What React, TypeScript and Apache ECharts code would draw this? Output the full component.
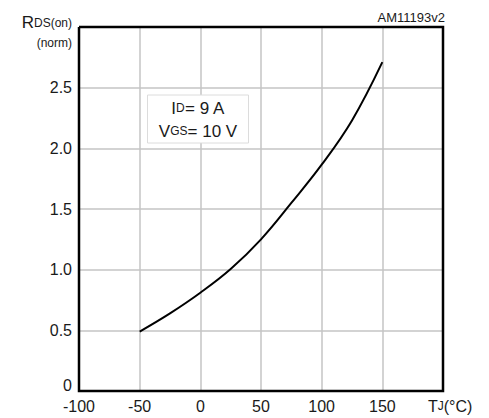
import React, { useEffect, useRef } from "react";
import * as echarts from "echarts";

const tempC = [-50, -25, 0, 25, 50, 75, 100, 125, 150];
const rdsNorm = [0.49, 0.64, 0.81, 1.005, 1.25, 1.55, 1.865, 2.23, 2.71];
const xTicks = { min: -100, max: 200, step: 50 };
const yTicks = { min: 0, max: 3, step: 0.5 };

const FONT = "Liberation Sans, Arial, sans-serif";
const INK = "#1a1a1a";
const G = { left: 79, top: 27, width: 364, height: 364 };

export default function App() {
  const ref = useRef<HTMLDivElement>(null);
  useEffect(() => {
    if (!ref.current) return;
    const chart = echarts.init(ref.current, null, { renderer: "svg" });
    const data = tempC.map((t, i) => [t, rdsNorm[i]]);
    chart.setOption({
      animation: false,
      backgroundColor: "#fff",
      grid: {
        left: G.left,
        top: G.top,
        width: G.width,
        height: G.height,
        containLabel: false,
      },
      xAxis: {
        type: "value",
        min: xTicks.min,
        max: xTicks.max,
        interval: xTicks.step,
        axisLine: { show: false },
        axisTick: { show: false },
        splitLine: { show: true, lineStyle: { color: "#c4c4c4", width: 1.5 } },
        axisLabel: {
          color: INK,
          fontFamily: FONT,
          fontSize: 16,
          margin: 7,
          formatter: (v: number) => (v === xTicks.max ? "" : String(v)),
        },
      },
      yAxis: {
        type: "value",
        min: yTicks.min,
        max: yTicks.max,
        interval: yTicks.step,
        axisLine: { show: false },
        axisTick: { show: false },
        splitLine: { show: true, lineStyle: { color: "#c4c4c4", width: 1.5 } },
        axisLabel: {
          color: INK,
          fontFamily: FONT,
          fontSize: 16,
          margin: 7,
          formatter: (v: number) =>
            v === yTicks.max ? "" : v === 0 ? "{z|0}" : v.toFixed(1),
          rich: {
            z: { fontFamily: FONT, fontSize: 16, color: INK, padding: [0, 0, 12, 0] },
          },
        },
      },
      series: [
        {
          type: "line",
          data,
          smooth: 0.4,
          showSymbol: false,
          lineStyle: { color: "#000", width: 2 },
        },
      ],
      graphic: [
        {
          type: "polyline",
          shape: {
            points: [
              [G.left, G.top],
              [G.left + G.width, G.top],
              [G.left + G.width, G.top + G.height],
              [G.left, G.top + G.height],
              [G.left, G.top],
            ],
          },
          style: { fill: null, stroke: "#000", lineWidth: 2.5 },
          z: 100,
          silent: true,
        },
        {
          type: "text",
          x: 445,
          y: 17,
          style: {
            text: "AM11193v2",
            align: "right",
            verticalAlign: "middle",
            fontFamily: FONT,
            fontSize: 13,
            fill: INK,
          },
        },
        {
          type: "text",
          x: 72,
          y: 31,
          style: {
            text: "{b|R}{s|DS(on)}",
            align: "right",
            verticalAlign: "bottom",
            fill: INK,
            rich: {
              b: { fontFamily: FONT, fontSize: 17, fill: INK },
              s: { fontFamily: FONT, fontSize: 12, fill: INK },
            },
          },
        },
        {
          type: "text",
          x: 72,
          y: 43,
          style: {
            text: "(norm)",
            align: "right",
            verticalAlign: "middle",
            fontFamily: FONT,
            fontSize: 12,
            fill: INK,
          },
        },
        {
          type: "text",
          x: 428,
          y: 406,
          style: {
            text: "{b|T}{s|J}{b|(°C)}",
            verticalAlign: "middle",
            fill: INK,
            rich: {
              b: { fontFamily: FONT, fontSize: 16, fill: INK },
              s: { fontFamily: FONT, fontSize: 12, fill: INK },
            },
          },
        },
        {
          type: "rect",
          shape: { x: 147.5, y: 95, width: 101, height: 48 },
          style: { fill: "#fff", stroke: "#dcdcdc", lineWidth: 1 },
          z: 10,
        },
        {
          type: "text",
          x: 198,
          y: 108,
          z: 11,
          style: {
            text: "{b|I}{s|D}{b|= 9 A}",
            align: "center",
            verticalAlign: "middle",
            fill: INK,
            rich: {
              b: { fontFamily: FONT, fontSize: 17, fill: INK },
              s: { fontFamily: FONT, fontSize: 12, fill: INK },
            },
          },
        },
        {
          type: "text",
          x: 198,
          y: 131,
          z: 11,
          style: {
            text: "{b|V}{s|GS}{b|= 10 V}",
            align: "center",
            verticalAlign: "middle",
            fill: INK,
            rich: {
              b: { fontFamily: FONT, fontSize: 17, fill: INK },
              s: { fontFamily: FONT, fontSize: 12, fill: INK },
            },
          },
        },
      ],
    });
    return () => chart.dispose();
  }, []);
  return (
    <div
      ref={ref}
      style={{ position: "fixed", left: 0, top: 0, width: 489, height: 418 }}
    />
  );
}
